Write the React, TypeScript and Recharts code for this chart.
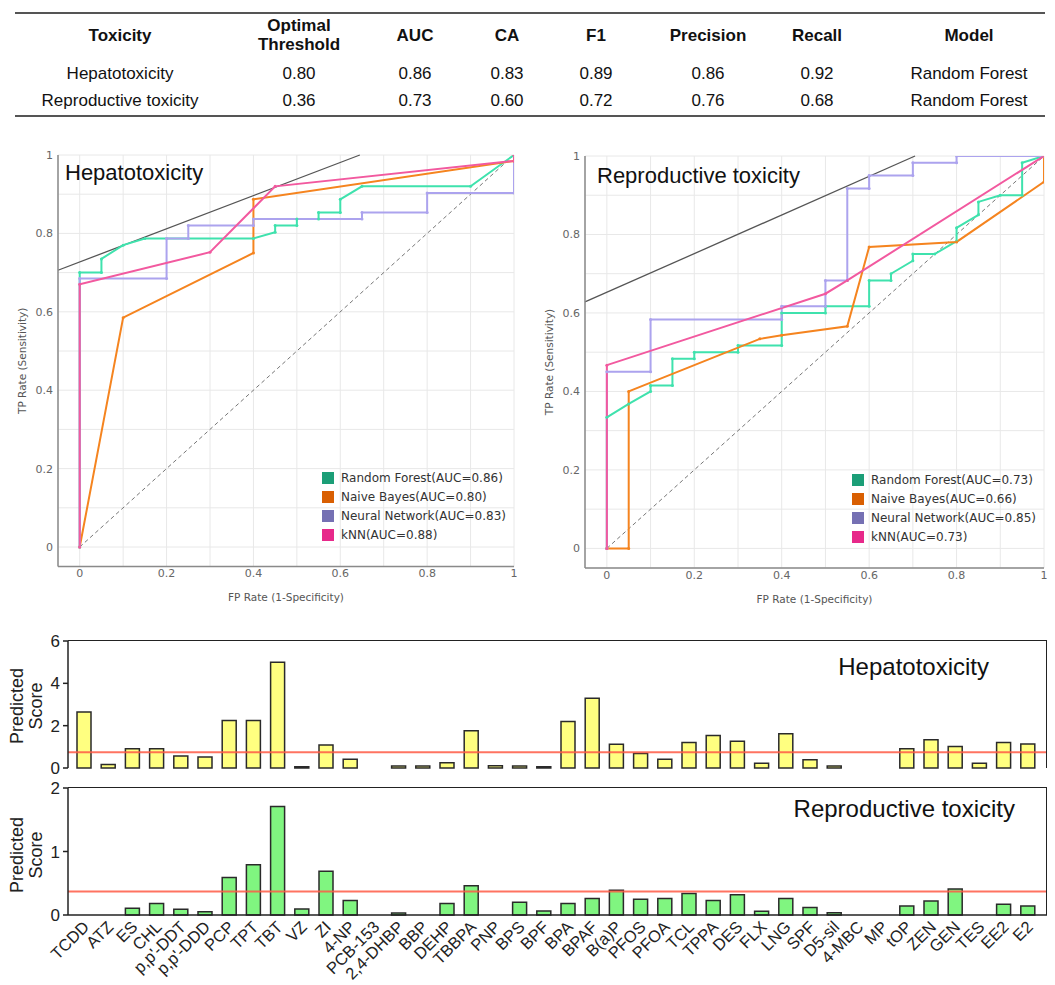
import React from 'react';
import {
  LineChart, Line, XAxis, YAxis, CartesianGrid, ReferenceLine, Legend,
  BarChart, Bar,
} from 'recharts';

type Pt = [number, number];

// ---- summary table ----
const tableHeaders = ['Toxicity', 'Optimal\nThreshold', 'AUC', 'CA', 'F1', 'Precision', 'Recall', 'Model'];
const hepRow = ['Hepatotoxicity', '0.80', '0.86', '0.83', '0.89', '0.86', '0.92', 'Random Forest'];
const repRow = ['Reproductive toxicity', '0.36', '0.73', '0.60', '0.72', '0.76', '0.68', 'Random Forest'];

// ---- ROC curves (FP rate, TP rate) ----
const modelNames = ['Random Forest', 'Naive Bayes', 'Neural Network', 'kNN'];
const hepAUC = ['0.86', '0.80', '0.83', '0.88'];
const repAUC = ['0.73', '0.66', '0.85', '0.73'];

const hepRF: Pt[] = [[0, 0], [0, 0.7], [0.05, 0.7], [0.05, 0.735], [0.1, 0.77], [0.15, 0.787], [0.4, 0.787], [0.45, 0.803], [0.45, 0.82], [0.5, 0.82], [0.5, 0.837], [0.55, 0.837], [0.55, 0.853], [0.6, 0.853], [0.6, 0.887], [0.65, 0.92], [0.9, 0.92], [1, 1]];
const hepNB: Pt[] = [[0, 0], [0.1, 0.585], [0.4, 0.75], [0.4, 0.887], [1, 0.985], [1, 1]];
const hepNN: Pt[] = [[0, 0], [0, 0.685], [0.2, 0.685], [0.2, 0.787], [0.25, 0.787], [0.25, 0.82], [0.4, 0.82], [0.4, 0.837], [0.65, 0.837], [0.65, 0.853], [0.8, 0.853], [0.8, 0.903], [1, 0.903], [1, 1]];
const hepKNN: Pt[] = [[0, 0], [0, 0.67], [0.3, 0.752], [0.45, 0.92], [1, 0.985], [1, 1]];

const repRF: Pt[] = [[0, 0], [0, 0.334], [0.05, 0.368], [0.1, 0.4], [0.1, 0.415], [0.15, 0.415], [0.15, 0.483], [0.2, 0.483], [0.2, 0.5], [0.3, 0.5], [0.3, 0.517], [0.4, 0.517], [0.4, 0.6], [0.5, 0.6], [0.5, 0.617], [0.6, 0.617], [0.6, 0.683], [0.65, 0.683], [0.65, 0.7], [0.7, 0.733], [0.7, 0.75], [0.75, 0.75], [0.8, 0.783], [0.8, 0.817], [0.85, 0.85], [0.85, 0.883], [0.9, 0.9], [0.95, 0.9], [0.95, 0.983], [1, 1]];
const repNB: Pt[] = [[0, 0], [0.05, 0], [0.05, 0.4], [0.35, 0.534], [0.4, 0.543], [0.55, 0.566], [0.6, 0.768], [0.8, 0.781], [1, 0.934], [1, 1]];
const repNN: Pt[] = [[0, 0], [0, 0.45], [0.1, 0.45], [0.1, 0.583], [0.4, 0.583], [0.4, 0.617], [0.5, 0.617], [0.5, 0.683], [0.55, 0.683], [0.55, 0.917], [0.6, 0.917], [0.6, 0.95], [0.7, 0.95], [0.7, 0.983], [0.8, 0.983], [0.8, 1], [1, 1]];
const repKNN: Pt[] = [[0, 0], [0, 0.467], [0.5, 0.649], [0.55, 0.683], [1, 1]];

// iso-performance lines touching the best curve
const hepIso: Pt[] = [[-0.05, 0.706], [0.645, 1]];
const repIso: Pt[] = [[-0.05, 0.628], [0.705, 1]];

const rocTicks = [0, 0.1, 0.2, 0.3, 0.4, 0.5, 0.6, 0.7, 0.8, 0.9, 1];

// ---- predicted scores per compound ----
const compounds = ['TCDD', 'ATZ', 'ES', 'CHL', "p,p'-DDT", "p,p'-DDD", 'PCP', 'TPT', 'TBT', 'VZ', 'ZI', '4-NP', 'PCB-153', '2,4-DHBP', 'BBP', 'DEHP', 'TBBPA', 'PNP', 'BPS', 'BPF', 'BPA', 'BPAF', 'B(a)P', 'PFOS', 'PFOA', 'TCL', 'TPPA', 'DES', 'FLX', 'LNG', 'SPF', 'D5-sil', '4-MBC', 'MP', 'tOP', 'ZEN', 'GEN', 'TES', 'EE2', 'E2'];
const hepScores = [2.65, 0.16, 0.91, 0.91, 0.57, 0.52, 2.24, 2.24, 5.0, 0.06, 1.09, 0.41, 0, 0.09, 0.09, 0.25, 1.76, 0.11, 0.1, 0.06, 2.2, 3.3, 1.12, 0.68, 0.41, 1.2, 1.54, 1.26, 0.22, 1.62, 0.39, 0.1, 0, 0, 0.91, 1.34, 1.02, 0.22, 1.21, 1.13];
const repScores = [0, 0, 0.105, 0.18, 0.09, 0.05, 0.59, 0.79, 1.71, 0.095, 0.69, 0.23, 0, 0.03, 0, 0.18, 0.46, 0, 0.2, 0.063, 0.18, 0.26, 0.39, 0.25, 0.26, 0.34, 0.23, 0.32, 0.058, 0.26, 0.12, 0.037, 0, 0, 0.14, 0.22, 0.41, 0, 0.17, 0.14];
const hepThreshold = 0.75;
const repThreshold = 0.37;
const hepTicks = [0, 2, 4, 6];
const repTicks = [0, 1, 2];

const SANS = '"Liberation Sans", Arial, Helvetica, sans-serif';
const ROC_FONT = '"DejaVu Sans", Verdana, sans-serif';
const lineColors = ['#3fe2ad', '#f5841f', '#aca3ee', '#f2599f'];
const legendColors = ['#1b9e77', '#d95f02', '#7570b3', '#e7298a'];

const toXY = (pts: Pt[]) => pts.map(([x, y]) => ({ x, y }));
const fmtRoc = (v: number) => (Math.round(v * 10) % 2 === 0 ? String(v) : '');

const SummaryTable = () => {
  const cols = [120, 299, 415, 507, 596, 708, 817, 969];
  const cell = (text: string, cx: number, cy: number, bold = false) => (
    <div
      key={`${text}-${cx}-${cy}`}
      style={{
        position: 'absolute', left: cx, top: cy, transform: 'translate(-50%, -50%)',
        fontFamily: SANS, fontSize: 17, fontWeight: bold ? 700 : 400, color: '#111',
        whiteSpace: 'pre', textAlign: 'center', lineHeight: '19px',
      }}
    >
      {text}
    </div>
  );
  return (
    <>
      <div style={{ position: 'absolute', left: 15, top: 12, width: 1030, height: 2, background: '#555' }} />
      {tableHeaders.map((h, i) => cell(h, cols[i], 35, true))}
      {hepRow.map((v, i) => cell(v, cols[i], 73, false))}
      {repRow.map((v, i) => cell(v, cols[i], 100, false))}
      <div style={{ position: 'absolute', left: 15, top: 115, width: 1030, height: 2, background: '#555' }} />
    </>
  );
};

const RocLegend = ({ aucs }: { aucs: string[] }) => (
  <div style={{ fontFamily: ROC_FONT, fontSize: 12, color: '#333' }}>
    {modelNames.map((m, i) => (
      <div key={m} style={{ display: 'flex', alignItems: 'center', height: 18.8, whiteSpace: 'nowrap' }}>
        <span style={{ width: 12, height: 12, background: legendColors[i], marginRight: 7 }} />
        <span>{`${m}(AUC=${aucs[i]})`}</span>
      </div>
    ))}
  </div>
);

interface RocProps {
  left: number;
  width: number;
  margin: { top: number; right: number; bottom: number; left: number };
  curves: Pt[][];
  aucs: string[];
  iso: Pt[];
  title: string;
  titleLeft: number;
  titleTop: number;
  legendLeft: number;
  legendTop: number;
  yLabelOffset: number;
  xLabelOffset: number;
}

const RocPanel = (p: RocProps) => (
  <div style={{ position: 'absolute', left: p.left, top: 140, width: p.width, height: 470 }}>
    <LineChart width={p.width} height={470} margin={p.margin}>
      <CartesianGrid stroke="#e8e8e8" />
      <XAxis
        type="number" dataKey="x" domain={[-0.05, 1]} ticks={rocTicks} interval={0}
        allowDataOverflow tickFormatter={fmtRoc} tickLine={false} tickSize={0} tickMargin={3}
        axisLine={{ stroke: '#8a8a8a', strokeWidth: 1.5 }} height={40}
        tick={{ fontSize: 11, fill: '#666', fontFamily: ROC_FONT }}
        label={{ value: 'FP Rate (1-Specificity)', position: 'insideBottom', offset: p.xLabelOffset, fontSize: 10.5, fill: '#555', fontFamily: ROC_FONT }}
      />
      <YAxis
        type="number" domain={[-0.05, 1]} ticks={rocTicks} interval={0}
        allowDataOverflow tickFormatter={fmtRoc} tickLine={false} tickSize={0} tickMargin={5}
        axisLine={{ stroke: '#8a8a8a', strokeWidth: 1.5 }} width={44}
        tick={{ fontSize: 11, fill: '#666', fontFamily: ROC_FONT }}
        label={{ value: 'TP Rate (Sensitivity)', angle: -90, position: 'insideLeft', offset: p.yLabelOffset, fontSize: 10.5, fill: '#555', fontFamily: ROC_FONT, style: { textAnchor: 'middle' } }}
      />
      <ReferenceLine segment={[{ x: 0, y: 0 }, { x: 1, y: 1 }]} stroke="#777" strokeDasharray="4 3" strokeWidth={1} />
      <ReferenceLine segment={[{ x: p.iso[0][0], y: p.iso[0][1] }, { x: p.iso[1][0], y: p.iso[1][1] }]} stroke="#555" strokeWidth={1.3} />
      {p.curves.map((c, i) => (
        <Line
          key={modelNames[i]} data={toXY(c)} dataKey="y" type="linear" stroke={lineColors[i]} strokeWidth={2}
          dot={{ r: 1.5, fill: lineColors[i], stroke: lineColors[i], strokeWidth: 0 }}
          isAnimationActive={false}
        />
      ))}
      <Legend
        layout="vertical" align="center" verticalAlign="middle"
        content={() => <RocLegend aucs={p.aucs} />}
        wrapperStyle={{ left: p.legendLeft, top: p.legendTop, width: 'auto', height: 'auto' }}
      />
    </LineChart>
    <div style={{ position: 'absolute', left: p.titleLeft, top: p.titleTop, fontFamily: SANS, fontSize: 22, lineHeight: '22px', color: '#111', whiteSpace: 'nowrap' }}>
      {p.title}
    </div>
  </div>
);

const ScoreLabel = ({ cy }: { cy: number }) => (
  <g fontFamily={SANS} fontSize={18} fill="#222">
    <text transform={`translate(17, ${cy}) rotate(-90)`} textAnchor="middle" dominantBaseline="central">Predicted</text>
    <text transform={`translate(36, ${cy}) rotate(-90)`} textAnchor="middle" dominantBaseline="central">Score</text>
  </g>
);

const RotatedTick = (props: any) => {
  const { x, y, payload } = props;
  const ax = x + 6;
  const ay = y + 13;
  return (
    <text x={ax} y={ay} transform={`rotate(-45, ${ax}, ${ay})`} textAnchor="end" fontSize={16.5} fontFamily={SANS} fill="#222">
      {payload.value}
    </text>
  );
};

interface ScoreProps {
  top: number;
  height: number;
  scores: number[];
  yMax: number;
  yTicks: number[];
  threshold: number;
  fill: string;
  title: string;
  titleRight: number;
  titleTop: number;
  marginTop: number;
  marginBottom: number;
  xHeight: number;
  labelCy: number;
  showNames: boolean;
}

const ScorePanel = (p: ScoreProps) => {
  const data = compounds.map((name, i) => ({ name, score: p.scores[i] }));
  const axisStroke = { stroke: '#222', strokeWidth: 1.5 };
  const margin = { top: p.marginTop, right: 8, left: 28, bottom: p.marginBottom };
  const plotLeft = margin.left + 40;
  const plotWidth = 1055 - plotLeft - margin.right;
  const plotHeight = p.height - margin.top - margin.bottom - p.xHeight;
  return (
    <div style={{ position: 'absolute', left: 0, top: p.top, width: 1055, height: p.height }}>
      <BarChart width={1055} height={p.height} data={data} margin={margin} barSize={14}>
        <XAxis
          dataKey="name" interval={0} padding={{ left: 4, right: 7 }} height={p.xHeight}
          axisLine={axisStroke} tickLine={false} tickSize={0} tickMargin={0}
          tick={p.showNames ? <RotatedTick /> : false}
        />
        <YAxis
          domain={[0, p.yMax]} ticks={p.yTicks} width={40} interval={0}
          axisLine={axisStroke} tickLine={{ stroke: '#222', strokeWidth: 1.5 }} tickSize={5} tickMargin={3}
          tick={{ fontSize: 17, fill: '#222', fontFamily: SANS }}
          label={<ScoreLabel cy={p.labelCy} />}
        />
        <Bar dataKey="score" fill={p.fill} stroke="#2a2a2a" strokeWidth={1.5} isAnimationActive={false} />
        <ReferenceLine y={p.threshold} stroke="#ff5a45" strokeWidth={2} strokeOpacity={0.85} />
      </BarChart>
      {/* top and right edges of the plot box */}
      <div
        style={{
          position: 'absolute', left: plotLeft, top: margin.top - 0.75, width: plotWidth - 0.75, height: plotHeight,
          borderTop: '1.5px solid #222', borderRight: '1.5px solid #222', pointerEvents: 'none',
        }}
      />
      <div style={{ position: 'absolute', right: p.titleRight, top: p.titleTop, fontFamily: SANS, fontSize: 24, lineHeight: '24px', color: '#111', whiteSpace: 'nowrap' }}>
        {p.title}
      </div>
    </div>
  );
};

export default function App() {
  return (
    <div style={{ position: 'absolute', left: 0, top: 0, width: 1055, height: 985, background: '#fff', overflow: 'hidden' }}>
      <SummaryTable />
      <RocPanel
        left={0} width={530} margin={{ top: 15, right: 16, left: 14, bottom: 3.4 }}
        curves={[hepRF, hepNB, hepNN, hepKNN]} aucs={hepAUC} iso={hepIso}
        title="Hepatotoxicity" titleLeft={65} titleTop={22}
        legendLeft={322} legendTop={329} yLabelOffset={8} xLabelOffset={6}
      />
      <RocPanel
        left={530} width={525} margin={{ top: 16, right: 11, left: 11, bottom: 2 }}
        curves={[repRF, repNB, repNN, repKNN]} aucs={repAUC} iso={repIso}
        title="Reproductive toxicity" titleLeft={67} titleTop={25}
        legendLeft={322} legendTop={331} yLabelOffset={8.4} xLabelOffset={5.5}
      />
      <ScorePanel
        top={775} height={210} scores={repScores} yMax={2} yTicks={repTicks} threshold={repThreshold}
        fill="#80f580" title="Reproductive toxicity" titleRight={40} titleTop={22}
        marginTop={13} marginBottom={0} xHeight={70} labelCy={80} showNames
      />
      <ScorePanel
        top={625} height={160} scores={hepScores} yMax={6} yTicks={hepTicks} threshold={hepThreshold}
        fill="#ffff80" title="Hepatotoxicity" titleRight={66} titleTop={30}
        marginTop={16} marginBottom={17} xHeight={0} labelCy={81} showNames={false}
      />
    </div>
  );
}
